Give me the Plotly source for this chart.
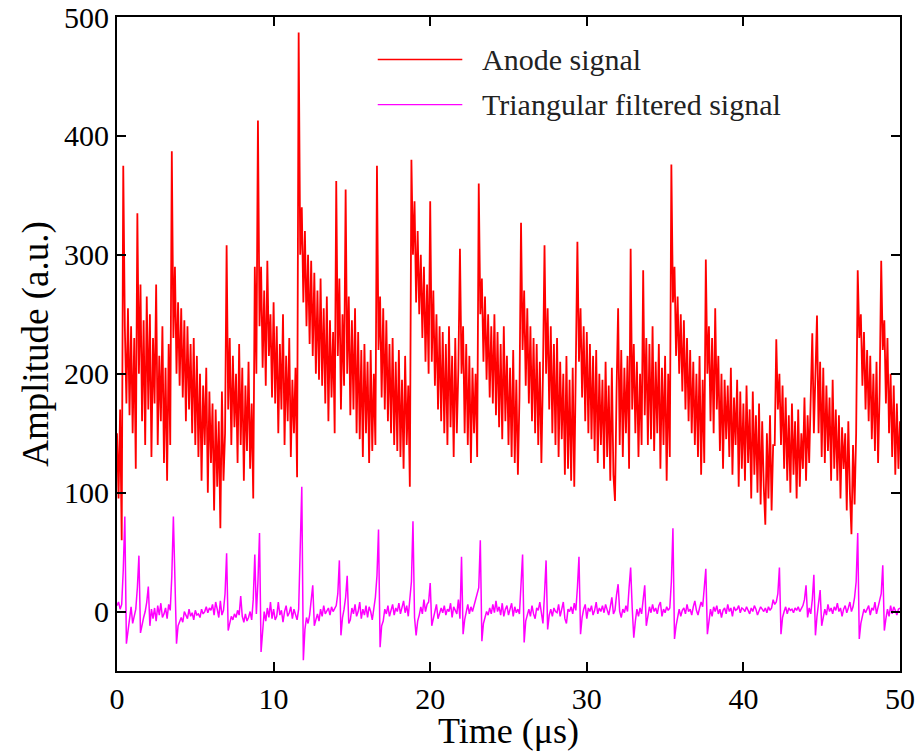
import numpy as np
import plotly.graph_objects as go

dt_anode = 0.1
dt_filt = 0.1

# Anode signal (a.u.), sampled every 0.1 us from t=0 to t=50 (one row per microsecond)
anode = [
    150, 95, 170, 60, 375, 240, 175, 255, 165, 240,
    150, 230, 120, 335, 200, 275, 160, 245, 140, 265,
    170, 250, 130, 230, 175, 275, 140, 215, 160, 240,
    125, 205, 110, 225, 140, 387, 230, 290, 200, 260,
    190, 255, 180, 245, 160, 240, 170, 225, 150, 230,
    140, 215, 130, 200, 110, 190, 140, 205, 100, 185,
    125, 175, 85, 170, 105, 160, 70, 185, 110, 150,
    308, 170, 230, 140, 215, 155, 200, 125, 225, 140,
    205, 110, 190, 135, 210, 120, 175, 95, 290, 200,
    413, 240, 290, 205, 270, 190, 295, 215, 250, 180,
    260, 175, 240, 150, 225, 170, 250, 140, 215, 160,
    230, 130, 195, 150, 205, 113, 487, 300, 340, 260,
    320, 240, 300, 225, 295, 215, 285, 200, 270, 195,
    280, 190, 255, 175, 265, 160, 245, 180, 235, 150,
    362, 215, 280, 170, 250, 190, 355, 200, 265, 165,
    245, 170, 255, 150, 235, 145, 220, 130, 225, 150,
    210, 125, 220, 135, 200, 140, 375, 220, 265, 180,
    255, 170, 245, 160, 225, 150, 230, 140, 210, 135,
    220, 130, 195, 120, 215, 140, 190, 105, 380, 300,
    345, 260, 320, 250, 300, 230, 290, 210, 275, 200,
    345, 210, 270, 190, 250, 170, 240, 160, 235, 150,
    225, 140, 240, 155, 215, 130, 230, 150, 205, 305,
    200, 240, 150, 225, 140, 215, 125, 205, 150, 200,
    130, 360, 250, 280, 210, 265, 195, 250, 180, 240,
    175, 250, 165, 235, 155, 225, 145, 240, 160, 215,
    140, 205, 130, 220, 125, 195, 115, 180, 327, 220,
    270, 190, 255, 175, 240, 160, 230, 150, 225, 140,
    210, 125, 200, 308, 200, 255, 170, 240, 150, 225,
    140, 230, 130, 210, 145, 200, 115, 215, 120, 195,
    110, 205, 105, 190, 311, 210, 255, 180, 240, 160,
    235, 150, 225, 145, 215, 135, 220, 125, 200, 140,
    195, 120, 210, 130, 190, 110, 205, 115, 93, 185,
    255, 140, 220, 130, 205, 150, 215, 120, 305, 170,
    225, 150, 210, 130, 200, 140, 287, 165, 230, 140,
    225, 145, 240, 135, 210, 150, 225, 120, 205, 140,
    215, 110, 200, 130, 376, 260, 290, 215, 265, 200,
    250, 185, 245, 170, 230, 160, 220, 150, 210, 140,
    200, 130, 215, 115, 195, 125, 296, 200, 240, 160,
    230, 150, 255, 170, 215, 135, 200, 120, 195, 145,
    190, 130, 205, 115, 180, 140, 195, 105, 185, 120,
    175, 110, 190, 125, 170, 95, 185, 115, 165, 100,
    175, 90, 160, 105, 73, 150, 95, 165, 85, 140,
    140, 229, 170, 200, 140, 190, 120, 180, 110, 165,
    100, 175, 115, 160, 95, 170, 105, 150, 120, 180,
    110, 165, 125, 180, 234, 150, 200, 249, 150, 210,
    130, 205, 125, 190, 135, 180, 110, 195, 120, 170,
    110, 165, 95, 155, 120, 150, 85, 160, 100, 65,
    140, 90, 150, 287, 230, 250, 190, 235, 170, 220,
    160, 215, 145, 200, 135, 210, 125, 185, 295, 220,
    245, 175, 230, 150, 200, 130, 190, 115, 175, 120,
    160,
]

# Triangular filtered signal (a.u.), sampled every 0.1 us from t=0 to t=50
filtered = [
    5, 8, 2, 6, 35, 80, -27, -15, -5, 4,
    -10, -3, 2, 20, 47, -18, -10, -5, 0, 8,
    21, -12, 2, -6, 3, -8, 5, -3, 7, -5,
    -2, 3, -6, 6, 1, 30, 80, 15, -27, -12,
    -8, -5, -9, 0, -3, -6, 2, -4, -1, -7,
    1, -3, -2, -5, 2, -2, 0, 4, -1, 3,
    1, 6, -3, 8, 2, -5, 9, -3, 1, 15,
    49, -16, -10, -4, -7, -2, -5, 1, -3, 13,
    -4, -9, -2, -8, -5, 0, -7, 10, 48, -2,
    25, 66, -34, -12, 0, -8, 3, -5, 8, -6,
    2, -7, -4, 8, -3, 1, -9, 0, 5, -4,
    -1, 4, -6, 2, -3, -7, 2, 45, 105, -41,
    -15, -5, -10, -3, 8, 22, -12, -6, -2, -8,
    2, -4, 5, -2, 1, 3, -3, 4, 0, 2,
    5, 15, 43, -20, -5, 2, 12, 30, -10, -7,
    3, -2, 6, -4, 0, 8, -6, 2, -3, 5,
    -5, 4, 0, -7, 2, 12, 30, 69, -30, -12,
    -8, 2, -2, 5, -4, 1, 6, -3, 3, 0,
    7, -2, 4, 9, -1, 5, -4, 8, 25, 76,
    -5, -20, -8, -3, 4, -2, 10, 0, 6, 8,
    24, -12, -5, 1, 6, -6, -2, 3, -1, 5,
    -3, 2, 0, 7, -5, 4, 1, -2, 10, -6,
    46, -19, -7, 1, 6, -2, 4, 0, 5, 9,
    14, 20, 60, -25, -10, -4, 0, -3, 3, -2,
    6, -1, 9, 0, 4, -3, 7, -4, 2, 5,
    -3, 2, 7, -4, 4, -1, 2, -2, 20, 48,
    -26, -8, -3, 2, -4, 5, -2, -6, 3, 1,
    8, -2, -10, 15, 43, -15, -3, 2, -4, 3,
    0, -1, 6, -4, 3, 8, -6, -10, 2, 0,
    4, -2, 7, 1, 20, 46, -19, -5, 2, 6,
    -6, 3, 0, 5, -3, 1, 8, -2, 3, 0,
    5, -1, 6, 2, -3, 4, 12, -2, 1, 14,
    23, 0, -5, 2, -1, 5, 0, 20, 37, 3,
    -22, -8, 2, -4, 3, -2, 8, 22, -12, -3,
    4, -1, 6, 0, 3, -2, 5, 8, -4, 2,
    -1, 4, 1, 3, 25, 70, -23, -12, -3, 2,
    -4, 1, 3, -2, 6, 0, 2, -3, 4, 9,
    1, -3, 3, 8, 4, 18, 36, -19, -6, 2,
    -4, 4, 0, 5, -2, 2, -5, 1, 3, -2,
    6, 0, 3, -4, 4, 1, 2, 5, -1, 3,
    2, 0, 4, 1, -2, 3, 0, 5, 2, -3,
    1, 4, 2, 0, 3, -1, 4, 1, 3, 10,
    6, 8, 15, 37, -19, -5, 0, 4, -2, 3,
    1, 2, -1, 3, 1, 4, 0, 2, 5, 10,
    22, -5, 3, -2, 10, 31, -20, -4, 5, 18,
    -12, -4, 2, -3, 6, 0, 3, -2, 4, 1,
    7, 0, 3, -4, 2, 5, -1, 3, 8, 0,
    4, 12, 25, 66, -23, -10, -4, 2, -1, 3,
    5, -3, 3, 1, 8, -2, 4, 10, 15, 39,
    -16, -6, 2, -4, 5, -2, 4, 1, -3, 2,
    3,
]

x_ticks = [0, 10, 20, 30, 40, 50]
y_ticks = [0, 100, 200, 300, 400, 500]
series_names = ["Anode signal", "Triangular filtered signal"]
series_colors = ["#FF0000", "#FF00FF"]

t_anode = np.arange(len(anode)) * dt_anode
t_filt = np.arange(len(filtered)) * dt_filt

FONT = "Liberation Serif, Times New Roman, serif"

fig = go.Figure()
fig.add_trace(go.Scatter(x=t_anode, y=anode, mode="lines", name=series_names[0],
                         line=dict(color=series_colors[0], width=1.8), showlegend=False))
fig.add_trace(go.Scatter(x=t_filt, y=filtered, mode="lines", name=series_names[1],
                         line=dict(color=series_colors[1], width=1.5), showlegend=False))

# Manual legend (long line samples as in the original)
leg_y = [0.935, 0.866]
for name, color, yy in zip(series_names, series_colors, leg_y):
    fig.add_shape(type="line", xref="paper", yref="paper", x0=0.333, x1=0.441, y0=yy, y1=yy,
                  line=dict(color=color, width=1.3))
    fig.add_annotation(xref="paper", yref="paper", x=0.4636, y=yy, text=name, showarrow=False,
                       xanchor="left", yanchor="middle",
                       font=dict(family=FONT, size=30, color="#222222"))

axis_common = dict(showline=True, linecolor="black", linewidth=2, mirror="ticks",
                   ticks="inside", ticklen=9, tickwidth=2, tickcolor="black",
                   showgrid=False, zeroline=False, automargin=False,
                   ticklabeloverflow="allow",
                   tickfont=dict(family=FONT, size=30, color="black"))

fig.update_xaxes(range=[0, 50], tickvals=x_ticks, ticktext=[str(v) for v in x_ticks],
                 title=dict(text="Time (μs)", font=dict(family=FONT, size=36, color="black"), standoff=2),
                 **axis_common)
fig.update_yaxes(range=[-50, 500], tickvals=y_ticks, ticktext=[str(v) for v in y_ticks],
                 title=dict(text="Amplitude (a.u.)", font=dict(family=FONT, size=37, color="black"), standoff=4),
                 **axis_common)

fig.update_layout(width=919, height=751, margin=dict(l=117, r=19, t=17, b=80),
                  paper_bgcolor="white", plot_bgcolor="white", showlegend=False)

fig.write_html("out.html")
